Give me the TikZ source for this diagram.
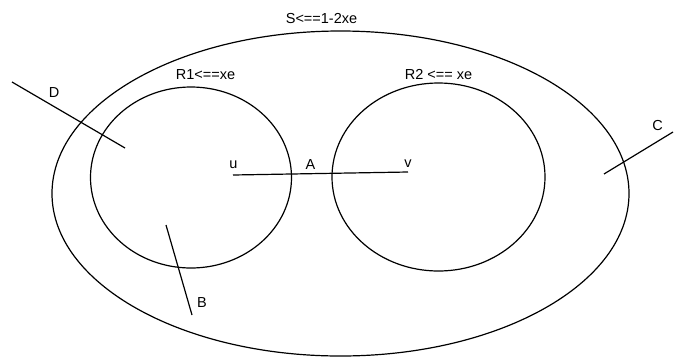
\documentclass[tikz,border=0pt]{standalone}
\usepackage{fontspec}
\setmainfont{Liberation Sans}
\begin{document}
\begin{tikzpicture}[x=1pt,y=-1pt,line width=1.2pt,
  lbl/.style={font=\fontsize{14.5}{17}\selectfont,inner sep=0pt,anchor=base}]
\useasboundingbox (0,0) rectangle (675,360);
% regions
\draw (340.5,193.5) ellipse [x radius=288.5, y radius=162.5];
\draw (191,177.5) ellipse [x radius=100.5, y radius=90.5];
\draw (438.5,177) ellipse [x radius=106.5, y radius=94];
% labels
\node[lbl] (S) at (321.5,23) {S<==1-2xe};
\node[lbl] (R1) at (205.5,79) {R1<==xe};
\node[lbl] (R2) at (438.5,79) {R2 <== xe};
\node[lbl] (lu) at (233.5,168) {u};
\node[lbl] (lA) at (310.5,169) {A};
\node[lbl] (lv) at (408,167) {v};
\node[lbl] (lD) at (54,97) {D};
\node[lbl] (lC) at (657.5,130) {C};
\node[lbl] (lB) at (202,307) {B};
% cut lines
\coordinate (u) at (233,175);
\coordinate (v) at (408,172);
\coordinate (D1) at (12,82);
\coordinate (D2) at (125,148);
\coordinate (C1) at (604,174);
\coordinate (C2) at (673,132);
\coordinate (B1) at (166,225);
\coordinate (B2) at (192,315);
\draw (u) -- (v);
\draw (D1) -- (D2);
\draw (C1) -- (C2);
\draw (B1) -- (B2);
\end{tikzpicture}
\end{document}
